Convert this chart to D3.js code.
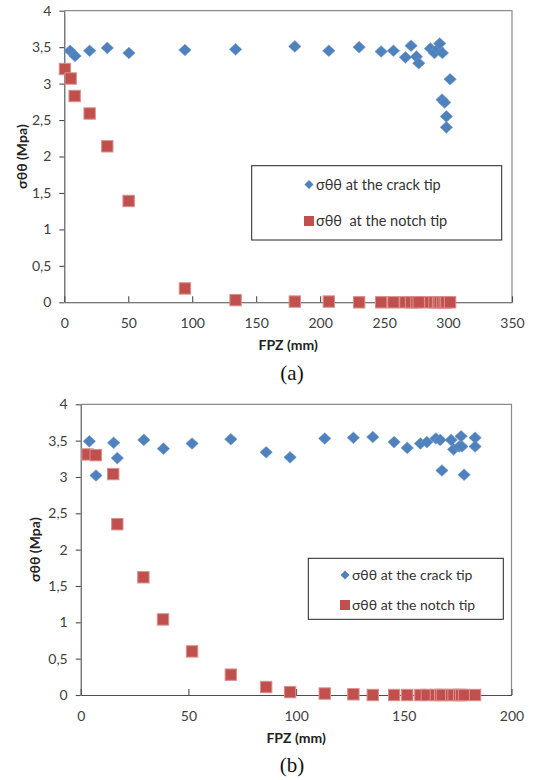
<!DOCTYPE html>
<html>
<head>
<meta charset="utf-8">
<script src="https://cdn.jsdelivr.net/npm/d3@7"></script>
<style>
  body { margin: 0; background: #fff; }
  svg { display: block; }
</style>
</head>
<body>
<script>
// chart (a) - crack tip
const fpzCrackA   = [4.5, 8.4, 19.8, 33.6, 50.5, 94.3, 133.9, 180.2, 206.8, 230.5, 247.7, 257.3, 266.7, 271.1, 275.3, 277.1, 286.2, 289.4, 292.2, 293.5, 295.6, 301.6, 295.3, 297.4, 298.7, 298.7]
const sigmaCrackA = [3.45, 3.38, 3.45, 3.49, 3.42, 3.46, 3.47, 3.51, 3.45, 3.50, 3.44, 3.45, 3.36, 3.52, 3.37, 3.28, 3.48, 3.42, 3.48, 3.55, 3.42, 3.06, 2.78, 2.74, 2.55, 2.40]
// chart (a) - notch tip
const fpzNotchA   = [0.5, 5.0, 8.1, 19.8, 33.6, 50.3, 94.3, 133.9, 180.2, 206.8, 230.5, 247.7, 257.3, 266.7, 271.1, 275.3, 277.1, 286.2, 289.4, 292.2, 293.5, 295.6, 297.4, 298.7, 301.6]
const sigmaNotchA = [3.20, 3.07, 2.83, 2.59, 2.14, 1.39, 0.19, 0.03, 0.01, 0.01, 0, 0, 0, 0, 0, 0, 0, 0, 0, 0, 0, 0, 0, 0, 0]

// chart (b) - crack tip
const fpzCrackB   = [4.0, 7.1, 15.3, 17.0, 29.3, 38.4, 51.7, 69.7, 86.1, 97.2, 113.3, 126.6, 135.6, 145.5, 151.6, 157.7, 160.7, 164.9, 166.9, 167.7, 172.0, 173.1, 175.7, 176.6, 177.0, 178.0, 183.1, 183.1]
const sigmaCrackB = [3.49, 3.02, 3.47, 3.26, 3.51, 3.39, 3.46, 3.52, 3.34, 3.27, 3.53, 3.54, 3.55, 3.48, 3.40, 3.46, 3.48, 3.53, 3.51, 3.09, 3.51, 3.38, 3.42, 3.56, 3.42, 3.03, 3.54, 3.42]
// chart (b) - notch tip
const fpzNotchB   = [3.2, 7.0, 15.1, 17.0, 29.1, 38.2, 51.7, 69.7, 86.1, 97.2, 113.3, 126.6, 135.6, 145.5, 151.6, 157.7, 160.7, 164.9, 166.9, 167.7, 172.0, 173.1, 175.7, 176.6, 178.0, 183.1]
const sigmaNotchB = [3.31, 3.30, 3.04, 2.35, 1.62, 1.04, 0.60, 0.28, 0.11, 0.04, 0.02, 0.01, 0, 0, 0, 0, 0, 0, 0, 0, 0, 0, 0, 0, 0, 0]

const yTicks  = [0, 0.5, 1, 1.5, 2, 2.5, 3, 3.5, 4]
const xTicksA = [0, 50, 100, 150, 200, 250, 300, 350]
const xTicksB = [0, 50, 100, 150, 200]

const blue = "#4f81bd"
const red = "#c0504d"
const fmt = d => String(d).replace(".", ",")

const svg = d3.select("body").append("svg")
  .attr("width", 534)
  .attr("height", 780)

function drawChart(cfg) {
  const x = d3.scaleLinear().domain([0, cfg.xMax]).range([cfg.left, cfg.right])
  const y = d3.scaleLinear().domain([0, 4]).range([cfg.bottom, cfg.top])
  const g = svg.append("g")

  // frame top / right
  g.append("path")
    .attr("d", `M${cfg.left},${cfg.top}H${cfg.right}V${cfg.bottom}`)
    .attr("fill", "none").attr("stroke", "#8c8c8c").attr("stroke-width", 1.2)

  g.append("g")
    .attr("transform", `translate(${cfg.left},0)`)
    .call(d3.axisLeft(y).tickValues(yTicks).tickFormat(fmt).tickSizeInner(5).tickSizeOuter(0).tickPadding(8))
  g.append("g")
    .attr("transform", `translate(0,${cfg.bottom})`)
    .call(d3.axisBottom(x).tickValues(cfg.xTicks).tickSizeInner(-6).tickSizeOuter(0).tickPadding(16))

  g.selectAll(".domain, .tick line").attr("stroke", "#4d4d4d").attr("stroke-width", 1.1)
  g.selectAll(".tick text")
    .attr("font-family", "Lato, 'Open Sans', sans-serif")
    .attr("font-size", 14)
    .attr("fill", "#404040")

  // y title
  g.append("text")
    .attr("transform", `translate(${cfg.yTitleX},${(cfg.top + cfg.bottom) / 2}) rotate(-90)`)
    .attr("text-anchor", "middle")
    .attr("dy", "0.35em")
    .attr("font-family", "Lato, sans-serif")
    .attr("font-weight", "bold")
    .attr("font-size", 14)
    .attr("fill", "#222")
    .text("σθθ (Mpa)")

  // x title
  g.append("text")
    .attr("x", (cfg.left + cfg.right) / 2)
    .attr("y", cfg.bottom + 43)
    .attr("dy", "0.35em")
    .attr("text-anchor", "middle")
    .attr("font-family", "Lato, sans-serif")
    .attr("font-weight", "bold")
    .attr("font-size", 14)
    .attr("fill", "#222")
    .text("FPZ (mm)")

  // caption
  g.append("text")
    .attr("x", 292)
    .attr("y", cfg.bottom + 70)
    .attr("dy", "0.35em")
    .attr("text-anchor", "middle")
    .attr("font-family", "'Liberation Serif', 'Times New Roman', serif")
    .attr("font-size", 21)
    .attr("fill", "#111")
    .text(cfg.caption)

  // crack tip diamonds
  g.selectAll(".crack")
    .data(cfg.crackX.map((v, i) => [v, cfg.crackY[i]]))
    .enter().append("path")
    .attr("class", "crack")
    .attr("d", "M0,-5.8L6.2,0L0,5.8L-6.2,0Z")
    .attr("transform", d => `translate(${x(d[0])},${y(d[1])})`)
    .attr("fill", blue)
    .attr("stroke", "#6b95c8").attr("stroke-width", 0.6)

  // notch tip squares
  g.selectAll(".notch")
    .data(cfg.notchX.map((v, i) => [v, cfg.notchY[i]]))
    .enter().append("rect")
    .attr("class", "notch")
    .attr("x", d => x(d[0]) - 5.7)
    .attr("y", d => y(d[1]) - 5.7)
    .attr("width", 11.4).attr("height", 11.4)
    .attr("fill", red)
    .attr("stroke", "#d9908e").attr("stroke-width", 1)

  // legend
  const lg = cfg.legend
  g.append("rect")
    .attr("x", lg.x).attr("y", lg.y).attr("width", lg.w).attr("height", lg.h)
    .attr("fill", "#fff").attr("stroke", "#222").attr("stroke-width", 1)
  g.append("path")
    .attr("d", "M0,-4.5L4.5,0L0,4.5L-4.5,0Z")
    .attr("transform", `translate(${lg.markX},${lg.row1})`)
    .attr("fill", blue)
  g.append("rect")
    .attr("x", lg.markX - 5).attr("y", lg.row2 - 5).attr("width", 10).attr("height", 10)
    .attr("fill", red)
  g.selectAll(".lgtext")
    .data([[lg.row1, "σθθ at the crack tip"], [lg.row2, lg.notchLabel]])
    .enter().append("text")
    .attr("x", lg.markX + 7)
    .attr("y", d => d[0])
    .attr("dy", "0.35em")
    .attr("font-family", "Lato, sans-serif")
    .attr("font-size", lg.fs)
    .attr("fill", "#333")
    .attr("xml:space", "preserve")
    .style("white-space", "pre")
    .text(d => d[1])
}

drawChart({
  left: 64.3, right: 512, top: 10.7, bottom: 302.3, xMax: 350, xTicks: xTicksA,
  crackX: fpzCrackA, crackY: sigmaCrackA, notchX: fpzNotchA, notchY: sigmaNotchA,
  yTitleX: 22, caption: "(a)",
  legend: { x: 251.7, y: 165.7, w: 250, h: 74.3, markX: 309, row1: 184.5, row2: 221, fs: 14.5, notchLabel: "σθθ  at the notch tip" }
})

drawChart({
  left: 80.7, right: 511.5, top: 404.3, bottom: 695, xMax: 200, xTicks: xTicksB,
  crackX: fpzCrackB, crackY: sigmaCrackB, notchX: fpzNotchB, notchY: sigmaNotchB,
  yTitleX: 35, caption: "(b)",
  legend: { x: 308.3, y: 558.3, w: 195, h: 61, markX: 345, row1: 575, row2: 605, fs: 14, notchLabel: "σθθ at the notch tip" }
})
</script>
</body>
</html>
